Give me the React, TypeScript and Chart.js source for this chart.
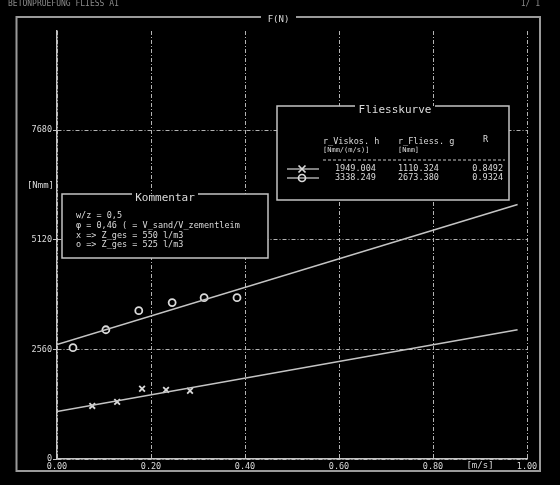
import { useEffect, useRef } from "react";
import { Chart, registerables } from "chart.js";

Chart.register(...registerables);

const W = 560;
const H = 485;

// axis ticks
const xTicks = [0, 0.2, 0.4, 0.6, 0.8, 1.0];
const yTicks = [0, 2560, 5120, 7680];
const xMax = 1.0;
const yMax = 10000;

// measured points, mixture "x"
const crossV = [0.075, 0.128, 0.181, 0.232, 0.283];
const crossF = [1240, 1335, 1640, 1615, 1595];

// measured points, mixture "o"
const circleV = [0.034, 0.104, 0.174, 0.245, 0.313, 0.383];
const circleF = [2600, 3020, 3465, 3655, 3770, 3770];

// Bingham fit per mixture: F = g + h * v
const fitSymbols = ["x", "o"];
const fitH = [1949.004, 3338.249];
const fitG = [1110.324, 2673.38];
const fitR = [0.8492, 0.9324];
const fitRange = [0, 0.98];

const kommentarLines = [
  "w/z = 0,5",
  "\u03c6 = 0,46 ( = V_sand/V_zementleim",
  "x => Z_ges = 550 l/m3",
  "o => Z_ges = 525 l/m3",
];

const FG = "#dadada";
const LINE = "#c4c4c4";
const GRID = "#b4b4b4";
const FRAME = "#9a9a9a";
const MONO = "'DejaVu Sans Mono', 'Liberation Mono', monospace";
const DASH = [4, 2, 1, 2];

function fitPoints(i: number) {
  return fitRange.map((v) => ({ x: v, y: fitG[i] + fitH[i] * v }));
}

function drawMarker(ctx: CanvasRenderingContext2D, sym: string, x: number, y: number) {
  ctx.save();
  ctx.strokeStyle = FG;
  ctx.lineWidth = 1.7;
  ctx.beginPath();
  if (sym === "x") {
    ctx.moveTo(x - 3.5, y - 3.5);
    ctx.lineTo(x + 3.5, y + 3.5);
    ctx.moveTo(x + 3.5, y - 3.5);
    ctx.lineTo(x - 3.5, y + 3.5);
  } else {
    ctx.arc(x, y, 3.5, 0, Math.PI * 2);
  }
  ctx.stroke();
  ctx.restore();
}

function titledBox(
  ctx: CanvasRenderingContext2D,
  l: number,
  t: number,
  r: number,
  b: number,
  title: string,
  gapL: number,
  gapR: number
) {
  ctx.save();
  ctx.fillStyle = "#000";
  ctx.fillRect(l, t, r - l, b - t);
  ctx.strokeStyle = LINE;
  ctx.lineWidth = 1.5;
  ctx.beginPath();
  ctx.moveTo(gapL, t);
  ctx.lineTo(l, t);
  ctx.lineTo(l, b);
  ctx.lineTo(r, b);
  ctx.lineTo(r, t);
  ctx.lineTo(gapR, t);
  ctx.stroke();
  ctx.fillStyle = FG;
  ctx.font = `11px ${MONO}`;
  ctx.textAlign = "center";
  ctx.textBaseline = "middle";
  ctx.fillText(title, (gapL + gapR) / 2, t + 4);
  ctx.restore();
}

const decorPlugin = {
  id: "decor",
  beforeDraw(chart: any) {
    const ctx = chart.ctx as CanvasRenderingContext2D;
    ctx.save();
    ctx.fillStyle = "#000";
    ctx.fillRect(0, 0, W, H);
    ctx.restore();
  },
  afterDraw(chart: any) {
    const ctx = chart.ctx as CanvasRenderingContext2D;
    ctx.save();

    // header line
    ctx.fillStyle = "#8a8a8a";
    ctx.font = `8px ${MONO}`;
    ctx.textBaseline = "middle";
    ctx.textAlign = "left";
    ctx.fillText("BETONPRUEFUNG FLIESS A1", 8, 4);
    ctx.textAlign = "right";
    ctx.fillText("1/ 1", 540, 4);

    // outer frame with title gap
    ctx.strokeStyle = FRAME;
    ctx.lineWidth = 2;
    ctx.beginPath();
    ctx.moveTo(261, 17);
    ctx.lineTo(16.5, 17);
    ctx.lineTo(16.5, 471);
    ctx.lineTo(540, 471);
    ctx.lineTo(540, 17);
    ctx.lineTo(296, 17);
    ctx.stroke();

    ctx.fillStyle = FG;
    ctx.font = `9px ${MONO}`;
    ctx.textAlign = "center";
    ctx.fillText("F(N)", 278.5, 20);

    // unit labels
    ctx.textAlign = "right";
    ctx.fillText("[Nmm]", 54, 186);
    ctx.textAlign = "center";
    ctx.fillText("[m/s]", 480, 466);

    // Kommentar box
    titledBox(ctx, 62, 194, 268, 258, "Kommentar", 132, 198);
    ctx.fillStyle = FG;
    ctx.font = `8.5px ${MONO}`;
    ctx.textAlign = "left";
    ctx.textBaseline = "middle";
    const ky = [216, 226, 236, 245];
    kommentarLines.forEach((s, i) => ctx.fillText(s, 76, ky[i]));

    // Fliesskurve box
    titledBox(ctx, 277, 106, 509, 200, "Fliesskurve", 355, 435);
    ctx.fillStyle = FG;
    ctx.font = `8.5px ${MONO}`;
    ctx.textAlign = "left";
    ctx.fillText("r_Viskos. h", 323, 142);
    ctx.fillText("r_Fliess. g", 398, 142);
    ctx.fillText("R", 483, 140);
    ctx.font = `7px ${MONO}`;
    ctx.fillText("[Nmm/(m/s)]", 323, 150);
    ctx.fillText("[Nmm]", 398, 150);

    ctx.strokeStyle = LINE;
    ctx.lineWidth = 1;
    ctx.setLineDash([3, 2]);
    ctx.beginPath();
    ctx.moveTo(323, 160);
    ctx.lineTo(505, 160);
    ctx.stroke();
    ctx.setLineDash([]);

    const rowY = [169, 178];
    ctx.font = `8.5px ${MONO}`;
    fitSymbols.forEach((sym, i) => {
      const y = rowY[i];
      ctx.strokeStyle = LINE;
      ctx.lineWidth = 1.3;
      ctx.beginPath();
      ctx.moveTo(287, y);
      ctx.lineTo(319, y);
      ctx.stroke();
      drawMarker(ctx, sym, 302, y);
      ctx.fillStyle = FG;
      ctx.textAlign = "left";
      ctx.fillText(fitH[i].toFixed(3), 335, y);
      ctx.fillText(fitG[i].toFixed(3), 398, y);
      ctx.textAlign = "right";
      ctx.fillText(fitR[i].toFixed(4), 503, y);
    });

    ctx.restore();
  },
};

export default function App() {
  const ref = useRef<HTMLCanvasElement | null>(null);

  useEffect(() => {
    document.body.style.margin = "0";
    document.body.style.background = "#000";
    const canvas = ref.current;
    if (!canvas) return;

    const chart = new Chart(canvas, {
      type: "scatter",
      data: {
        datasets: [
          {
            data: fitPoints(0),
            showLine: true,
            borderColor: LINE,
            borderWidth: 1.6,
            pointRadius: 0,
          },
          {
            data: fitPoints(1),
            showLine: true,
            borderColor: LINE,
            borderWidth: 1.6,
            pointRadius: 0,
          },
          {
            data: crossV.map((v, i) => ({ x: v, y: crossF[i] })),
            pointStyle: "crossRot",
            pointRadius: 4,
            borderColor: FG,
            borderWidth: 1.8,
            backgroundColor: "#000",
          },
          {
            data: circleV.map((v, i) => ({ x: v, y: circleF[i] })),
            pointStyle: "circle",
            pointRadius: 3.5,
            borderColor: FG,
            borderWidth: 1.8,
            backgroundColor: "#000",
          },
        ],
      },
      options: {
        responsive: false,
        animation: false,
        layout: { padding: { left: 0, top: 31, right: 33, bottom: 0 } },
        plugins: {
          legend: { display: false },
          tooltip: { enabled: false },
        },
        scales: {
          x: {
            type: "linear",
            min: 0,
            max: xMax,
            afterBuildTicks: (s: any) => {
              s.ticks = xTicks.map((v) => ({ value: v }));
            },
            afterFit: (s: any) => {
              s.height = 26;
            },
            ticks: {
              autoSkip: false,
              maxRotation: 0,
              padding: 3,
              color: FG,
              font: { family: MONO, size: 8.5 },
              callback: (v: any) => Number(v).toFixed(2),
            },
            grid: {
              color: GRID,
              lineWidth: 1,
              drawTicks: false,
            },
            border: { display: true, color: LINE, width: 1.5, dash: DASH },
          },
          y: {
            type: "linear",
            min: 0,
            max: yMax,
            afterBuildTicks: (s: any) => {
              s.ticks = yTicks.map((v) => ({ value: v }));
            },
            afterFit: (s: any) => {
              s.width = 57;
            },
            ticks: {
              padding: 1,
              color: FG,
              font: { family: MONO, size: 8.5 },
              callback: (v: any) => String(v),
            },
            grid: {
              color: GRID,
              lineWidth: 1,
              drawTicks: true,
              tickLength: 4,
              tickColor: LINE,
              tickBorderDash: [],
            },
            border: { display: true, color: LINE, width: 1.5, dash: DASH },
          },
        },
      },
      plugins: [decorPlugin],
    } as any);

    return () => chart.destroy();
  }, []);

  return (
    <div style={{ width: W, height: H, background: "#000" }}>
      <canvas ref={ref} width={W} height={H} style={{ display: "block" }} />
    </div>
  );
}
